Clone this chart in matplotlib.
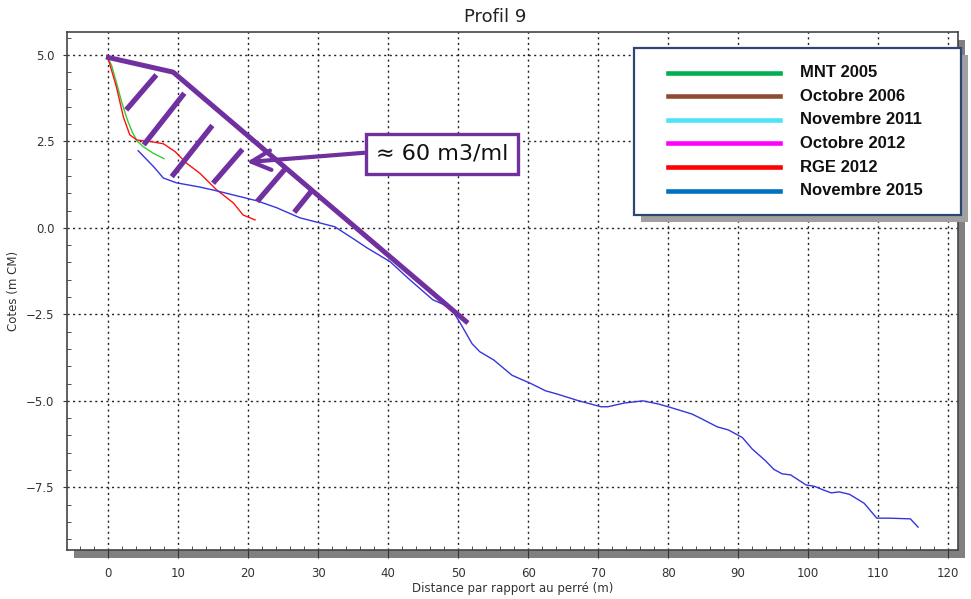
import matplotlib.pyplot as plt
from matplotlib.lines import Line2D
from matplotlib.patches import Rectangle
from matplotlib.ticker import MultipleLocator

# Profils relevés
mnt_x = [0, 0.5, 1.2, 2.0, 2.8, 3.5, 4.2, 5.0, 6.5, 8.0]
mnt_y = [4.9, 4.7, 4.2, 3.6, 3.1, 2.75, 2.5, 2.35, 2.15, 2.0]

rge_x = [0, 1.2, 2.2, 3.1, 4.1, 6.2, 7.9, 9.6, 11.2, 13.1, 15.5, 17.9, 19.3, 21.0]
rge_y = [4.9, 4.07, 3.2, 2.69, 2.54, 2.49, 2.43, 2.2, 1.87, 1.58, 1.1, 0.72, 0.37, 0.23]

nov2015_x = [4.3, 6.5, 7.9, 9.8, 13.1, 15.5, 17.9, 21.3, 24.1, 27.4, 30.3, 32.4,
             35.3, 37.0, 40.3, 43.1, 46.4, 48.9, 50.3, 52.0, 53.1, 55.1, 57.7,
             60.4, 62.5, 64.1, 67.1, 70.4, 71.4, 73.8, 76.4, 78.6, 80.5, 83.4,
             84.8, 87.0, 88.6, 90.6, 92.0, 93.9, 95.1, 96.3, 97.5, 99.7, 100.9,
             102.1, 103.3, 104.4, 105.9, 108.0, 109.8, 111.6, 114.6, 115.7]
nov2015_y = [2.23, 1.77, 1.44, 1.30, 1.18, 1.07, 0.95, 0.78, 0.58, 0.29, 0.14, 0.03,
             -0.35, -0.58, -0.98, -1.5, -2.08, -2.3, -2.75, -3.35, -3.58, -3.82, -4.26,
             -4.5, -4.71, -4.8, -4.99, -5.17, -5.17, -5.06, -5.0, -5.09, -5.2, -5.38,
             -5.52, -5.75, -5.84, -6.06, -6.39, -6.73, -6.98, -7.11, -7.14, -7.43, -7.47,
             -7.57, -7.66, -7.63, -7.7, -7.96, -8.39, -8.39, -8.41, -8.65]

# enveloppe du volume perdu (annotation)
env_x = [-0.3, 9.3, 51.4]
env_y = [4.94, 4.5, -2.75]
hatch_x0 = [2.6, 5.1, 9.1, 15.0, 21.3, 26.6]
hatch_y0 = [3.41, 2.4, 1.48, 1.29, 0.76, 0.45]
hatch_x1 = [6.9, 10.9, 14.9, 19.2, 25.2, 29.0]
hatch_y1 = [4.42, 3.89, 2.96, 2.27, 1.68, 1.05]

legend_labels = ['MNT 2005', 'Octobre 2006', 'Novembre 2011',
                 'Octobre 2012', 'RGE 2012', 'Novembre 2015']
legend_colors = ['#00B050', '#8E4B32', '#4FE3F7', '#FF00FF', '#FF0000', '#0070C0']

purple = '#7030A0'
W, H = 971, 599


def fx(px):
    return px / W


def fy(py):
    return 1 - py / H


fig = plt.figure(figsize=(W / 100, H / 100), dpi=100)
ax = fig.add_axes([fx(67), fy(550), fx(958) - fx(67), fy(32) - fy(550)])

# ombre du cadre
fig.add_artist(Rectangle((fx(74), fy(558)), fx(958) - fx(67), fy(32) - fy(550),
                         transform=fig.transFigure, fc='#808080', ec='none', zorder=-5))

ax.plot(mnt_x, mnt_y, color='#33CC33', lw=1)
ax.plot(rge_x, rge_y, color='#FF1010', lw=1)
ax.plot(nov2015_x, nov2015_y, color='#3535DD', lw=1)

ax.plot(env_x, env_y, color=purple, lw=3.6, solid_capstyle='butt', zorder=5)
for a, b, c, d in zip(hatch_x0, hatch_y0, hatch_x1, hatch_y1):
    ax.plot([a, c], [b, d], color=purple, lw=3.8, solid_capstyle='butt', zorder=5)

ax.annotate('', xy=(19.8, 1.9), xytext=(36.6, 2.17),
            arrowprops=dict(arrowstyle='->,head_length=1.4,head_width=0.7',
                            lw=3, color=purple, mutation_scale=10,
                            shrinkA=0, shrinkB=0), zorder=6)
ax.text(47.7, 2.14, '\u2248 60 m3/ml', ha='center', va='center', fontsize=16,
        color='#111111', zorder=7,
        bbox=dict(boxstyle='square,pad=0.45', fc='white', ec=purple, lw=2.4))

ax.set_xlim(-5.86, 121.4)
ax.set_ylim(-9.31, 5.66)
ax.xaxis.set_major_locator(MultipleLocator(10))
ax.xaxis.set_minor_locator(MultipleLocator(2))
ax.yaxis.set_major_locator(MultipleLocator(2.5))
ax.yaxis.set_minor_locator(MultipleLocator(0.5))
ax.grid(True, which='major', linestyle=(0, (1.5, 2.5)), color='#222222', lw=1)
ax.tick_params(axis='x', which='major', direction='out', length=6, pad=6,
               labelsize=8.5, colors='#333333')
ax.tick_params(axis='y', which='major', direction='out', length=3, pad=6,
               labelsize=8.5, colors='#333333')
ax.tick_params(which='minor', direction='in', length=3, color='#333333')
ax.tick_params(top=False, right=False, which='both')
for s in ax.spines.values():
    s.set_color('#444444')
    s.set_linewidth(1.2)

ax.set_title('Profil 9', fontsize=13, color='#222222', pad=7, x=0.481)
ax.set_xlabel('Distance par rapport au perré (m)', fontsize=8.5, color='#333333', labelpad=2)
ax.set_ylabel('Cotes (m CM)', fontsize=8.5, color='#333333', labelpad=4)

# légende (dessinée à la main)
fig.add_artist(Rectangle((fx(641), fy(222)), fx(961) - fx(634), fy(48) - fy(215),
                         transform=fig.transFigure, fc='#A0A0A0', ec='none', zorder=8))
fig.add_artist(Rectangle((fx(634), fy(215)), fx(961) - fx(634), fy(48) - fy(215),
                         transform=fig.transFigure, fc='white', ec='#2C4770', lw=1.6, zorder=9))
for i, (lab, col) in enumerate(zip(legend_labels, legend_colors)):
    yy = 72.7 + i * 23.6
    fig.add_artist(Line2D([fx(668), fx(780)], [fy(yy), fy(yy)], transform=fig.transFigure,
                          color=col, lw=3.3, zorder=10))
    fig.text(fx(800), fy(yy), lab, ha='left', va='center', fontsize=12,
             family='Liberation Sans', weight='bold', color='#111111', zorder=10)

fig.savefig('out.png', dpi=100)
